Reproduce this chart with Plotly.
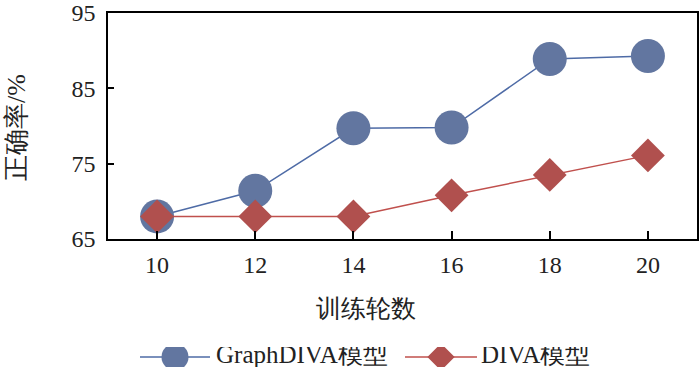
import plotly.graph_objects as go

epochs = [10, 12, 14, 16, 18, 20]
graphdiva = [68.0, 71.4, 79.7, 79.8, 88.9, 89.3]
diva = [68.0, 68.0, 68.0, 70.8, 73.5, 76.1]
names = ["GraphDIVA模型", "DIVA模型"]
y_ticks = [65, 75, 85, 95]
x_title = "训练轮数"
y_title = "正确率/%"

FONT = "Liberation Serif"
BLUE_M = "#6276A0"
BLUE_L = "#4E6BA6"
RED_M = "#B0504E"
RED_L = "#C0504D"

W, H = 700, 372
ML, MR, MT, MB = 108, 3, 13, 5
plot_h = H - MT - MB
main_bottom = (H - 239 - MB) / plot_h

fig = go.Figure()
fig.add_trace(go.Scatter(x=epochs, y=graphdiva, mode="lines+markers", name=names[0],
                         line=dict(color=BLUE_L, width=1.5),
                         marker=dict(symbol="circle", size=34, color=BLUE_M),
                         showlegend=False))
fig.add_trace(go.Scatter(x=epochs, y=diva, mode="lines+markers", name=names[1],
                         line=dict(color=RED_L, width=1.5),
                         marker=dict(symbol="diamond", size=26, color=RED_M),
                         showlegend=False))

# custom legend on an auxiliary axis pair (pixel-like coordinates)
leg = [
    (140, 210, 175, "circle", 27, BLUE_L, BLUE_M, names[0], 216),
    (405, 477, 441, "diamond", 21, RED_L, RED_M, names[1], 481),
]
for x0, x1, xm, sym, sz, lc, mc, nm, tx in leg:
    fig.add_trace(go.Scatter(x=[x0, x1], y=[0, 0], mode="lines", xaxis="x2", yaxis="y2",
                             line=dict(color=lc, width=1.5), showlegend=False, hoverinfo="skip"))
    fig.add_trace(go.Scatter(x=[xm], y=[0], mode="markers", xaxis="x2", yaxis="y2",
                             marker=dict(symbol=sym, size=sz, color=mc), showlegend=False, hoverinfo="skip"))
    fig.add_trace(go.Scatter(x=[tx], y=[0], mode="text", text=[nm], textposition="middle right",
                             textfont=dict(family=FONT, size=25, color="#222"),
                             xaxis="x2", yaxis="y2", showlegend=False, hoverinfo="skip"))

axis_common = dict(showline=True, linecolor="black", linewidth=1.5, mirror=True,
                   showgrid=False, zeroline=False, ticks="inside", tickcolor="black",
                   tickwidth=1.5, ticklabeloverflow="allow", automargin=False,
                   tickfont=dict(family=FONT, size=24, color="#222"))

fig.update_layout(
    width=W, height=H,
    margin=dict(l=ML, r=MR, t=MT, b=MB, autoexpand=False),
    plot_bgcolor="white", paper_bgcolor="white",
    xaxis=dict(range=[9, 21], tickvals=epochs, ticklen=8, domain=[0, 1],
               anchor="y", ticklabelstandoff=3, **axis_common),
    yaxis=dict(range=[65, 95], tickvals=y_ticks, ticklen=6, domain=[main_bottom, 1],
               anchor="x", ticklabelstandoff=6, **axis_common),
    xaxis2=dict(range=[ML, W - MR], domain=[0, 1], anchor="y2", visible=False, fixedrange=True),
    yaxis2=dict(range=[-1, 1], domain=[0, 20 / plot_h], anchor="x2", visible=False, fixedrange=True),
    annotations=[
        dict(text=x_title, x=(366 - ML) / (W - ML - MR), xref="paper",
             y=(H - 308 - MB) / plot_h, yref="paper", showarrow=False,
             font=dict(family=FONT, size=25, color="#222"), xanchor="center", yanchor="middle"),
        dict(text=y_title, x=-(ML - 17) / (W - ML - MR), xref="paper",
             y=(H - 128 - MB) / plot_h, yref="paper", showarrow=False, textangle=-90,
             font=dict(family=FONT, size=26, color="#222"), xanchor="center", yanchor="middle"),
    ],
)

fig.write_html("out.html", config={"displayModeBar": False},
               post_script="document.body.style.margin='0';document.body.style.overflow='hidden';")
